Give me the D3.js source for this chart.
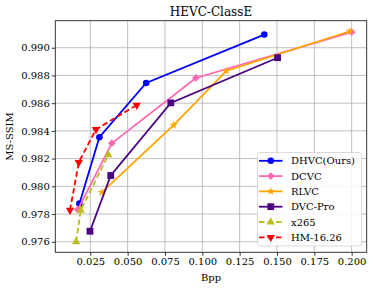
<!DOCTYPE html>
<html>
<head>
<meta charset="utf-8">
<script src="https://cdn.jsdelivr.net/npm/d3@7/dist/d3.min.js"></script>
<style>
  body { margin: 0; background: #fff; }
  svg { display: block; font-family: "DejaVu Serif", serif; }
</style>
</head>
<body>
<script>
/* Data */
var seriesNames = ["DHVC(Ours)", "DCVC", "RLVC", "DVC-Pro", "x265", "HM-16.26"];
var dhvcBpp = [0.0177, 0.0311, 0.0624, 0.1415],
    dhvcSsim = [0.97875, 0.98354, 0.98746, 0.99095];
var dcvcBpp = [0.0166, 0.0394, 0.0957, 0.2000],
    dcvcSsim = [0.97832, 0.98311, 0.98782, 0.99112];
var rlvcBpp = [0.0327, 0.0808, 0.1160, 0.1988],
    rlvcSsim = [0.97956, 0.98441, 0.98832, 0.99119];
var dvcproBpp = [0.0248, 0.0387, 0.0789, 0.1504],
    dvcproSsim = [0.97676, 0.98078, 0.98602, 0.98928];
var x265Bpp = [0.0155, 0.0186, 0.0371],
    x265Ssim = [0.97600, 0.97827, 0.98227];
var hmBpp = [0.0114, 0.0173, 0.0288, 0.0561],
    hmSsim = [0.97828, 0.98173, 0.98411, 0.98586];
var xTicks = [0.025, 0.050, 0.075, 0.100, 0.125, 0.150, 0.175, 0.200];
var yTicks = [0.976, 0.978, 0.980, 0.982, 0.984, 0.986, 0.988, 0.990];

/* Display setup */
var width = 373, height = 289,
    plot = {left: 55.3, right: 366.7, top: 20.7, bottom: 252.3};

var svg = d3.select("body").append("svg")
    .attr("width", width)
    .attr("height", height);

var x = d3.scaleLinear().domain([0.00157, 0.21008]).range([plot.left, plot.right]),
    y = d3.scaleLinear().domain([0.97524, 0.99195]).range([plot.bottom, plot.top]);

var styles = [
    {color: "#0000ff", marker: "circle", dash: null},
    {color: "#ff69b4", marker: "diamond", dash: null},
    {color: "#ffa500", marker: "star", dash: null},
    {color: "#4b0082", marker: "square", dash: null},
    {color: "#bcbd22", marker: "triUp", dash: "5.5,3"},
    {color: "#ff0000", marker: "triDown", dash: "5.5,3"}
];

var allBpp = [dhvcBpp, dcvcBpp, rlvcBpp, dvcproBpp, x265Bpp, hmBpp],
    allSsim = [dhvcSsim, dcvcSsim, rlvcSsim, dvcproSsim, x265Ssim, hmSsim];

var series = seriesNames.map(function(name, i) {
    return {
        name: name,
        style: styles[i],
        points: allBpp[i].map(function(b, j) { return {bpp: b, ssim: allSsim[i][j]}; })
    };
});

function markerPath(kind) {
    switch (kind) {
        case "circle": return d3.symbol(d3.symbolCircle, 34)();
        case "diamond": return d3.symbol(d3.symbolSquare, 30)();
        case "star": return d3.symbol(d3.symbolStar, 22)();
        case "square": return d3.symbol(d3.symbolSquare, 46)();
        default: return d3.symbol(d3.symbolTriangle, 30)();
    }
}
function markerRotate(kind) {
    return kind == "diamond" ? 45 : (kind == "triDown" ? 180 : 0);
}

/* Grid */
var grid = svg.append("g");
grid.selectAll(".gx").data(xTicks).enter().append("line")
    .attr("x1", function(d) { return x(d); })
    .attr("x2", function(d) { return x(d); })
    .attr("y1", plot.top).attr("y2", plot.bottom)
    .style("stroke", "#b0b0b0").style("stroke-width", 0.8);
grid.selectAll(".gy").data(yTicks).enter().append("line")
    .attr("y1", function(d) { return y(d); })
    .attr("y2", function(d) { return y(d); })
    .attr("x1", plot.left).attr("x2", plot.right)
    .style("stroke", "#b0b0b0").style("stroke-width", 0.8);

/* Axes */
var xAxis = svg.append("g")
    .attr("transform", "translate(0," + plot.bottom + ")")
    .call(d3.axisBottom(x).tickValues(xTicks).tickFormat(d3.format(".3f")).tickSize(3.5).tickSizeOuter(0));
var yAxis = svg.append("g")
    .attr("transform", "translate(" + plot.left + ",0)")
    .call(d3.axisLeft(y).tickValues(yTicks).tickFormat(d3.format(".3f")).tickSize(3.5).tickSizeOuter(0));
[xAxis, yAxis].forEach(function(a) {
    a.select(".domain").remove();
    a.selectAll("text").style("font-family", "DejaVu Serif").style("font-size", "10px").attr("fill", "#000");
    a.selectAll("line").attr("stroke", "#000").style("stroke-width", 0.8);
});
xAxis.selectAll("text").attr("dy", "0.75em").attr("y", 5.5);
yAxis.selectAll("text").attr("x", -5.5);

/* Lines and markers */
var line = d3.line()
    .x(function(d) { return x(d.bpp); })
    .y(function(d) { return y(d.ssim); });

series.forEach(function(s) {
    var g = svg.append("g");
    g.append("path")
        .attr("d", line(s.points))
        .style("fill", "none")
        .style("stroke", s.style.color)
        .style("stroke-width", 1.8)
        .style("stroke-dasharray", s.style.dash);
    g.selectAll("path.mk").data(s.points).enter().append("path")
        .attr("class", "mk")
        .attr("d", markerPath(s.style.marker))
        .attr("transform", function(d) {
            return "translate(" + x(d.bpp) + "," + y(d.ssim) + ") rotate(" + markerRotate(s.style.marker) + ")";
        })
        .style("fill", s.style.color);
});

/* Frame */
svg.append("rect")
    .attr("x", plot.left).attr("y", plot.top)
    .attr("width", plot.right - plot.left).attr("height", plot.bottom - plot.top)
    .style("fill", "none").style("stroke", "#222").style("stroke-width", 0.9);

/* Title and labels */
svg.append("text")
    .attr("x", (plot.left + plot.right) / 2).attr("y", 16)
    .attr("text-anchor", "middle")
    .style("font-size", "12px")
    .text("HEVC-ClassE");
svg.append("text")
    .attr("x", (plot.left + plot.right) / 2).attr("y", 281)
    .attr("text-anchor", "middle")
    .style("font-size", "10px")
    .text("Bpp");
svg.append("text")
    .attr("transform", "translate(13," + ((plot.top + plot.bottom) / 2) + ") rotate(-90)")
    .attr("text-anchor", "middle")
    .style("font-size", "10px")
    .text("MS-SSIM");

/* Legend */
var legend = svg.append("g").attr("transform", "translate(257.5,152.5)");
legend.append("rect")
    .attr("width", 104).attr("height", 93.5)
    .attr("rx", 2.5)
    .style("fill", "#fff").style("fill-opacity", 0.85)
    .style("stroke", "#d0d0d0").style("stroke-width", 0.8);
var item = legend.selectAll("g.item").data(series).enter().append("g")
    .attr("class", "item")
    .attr("transform", function(d, i) { return "translate(0," + (8.3 + i * 15.3) + ")"; });
item.append("line")
    .attr("x1", 1.5).attr("x2", 25)
    .style("stroke", function(d) { return d.style.color; })
    .style("stroke-width", 1.8)
    .style("stroke-dasharray", function(d) { return d.style.dash; });
item.append("path")
    .attr("d", function(d) { return markerPath(d.style.marker); })
    .attr("transform", function(d) { return "translate(13.3,0) rotate(" + markerRotate(d.style.marker) + ")"; })
    .style("fill", function(d) { return d.style.color; });
item.append("text")
    .attr("x", 33.5).attr("dy", "0.35em")
    .style("font-size", "10px")
    .text(function(d) { return d.name; });
</script>
</body>
</html>
